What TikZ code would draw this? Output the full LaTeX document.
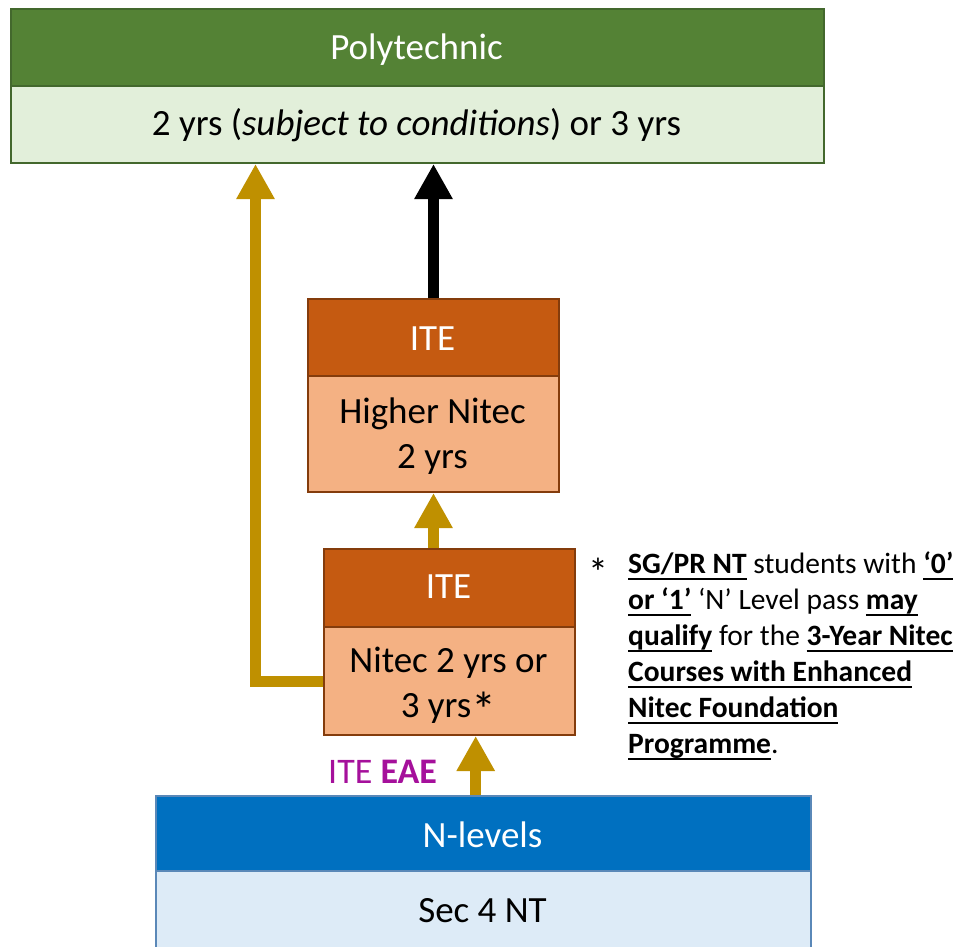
\documentclass[tikz,border=0pt]{standalone}
\usepackage{fontspec}
\setmainfont{Carlito}
\usetikzlibrary{arrows.meta}
\definecolor{polyHc}{HTML}{548235}
\definecolor{polyLc}{HTML}{E2EFDA}
\definecolor{polyBc}{HTML}{43682D}
\definecolor{iteHc}{HTML}{C55A11}
\definecolor{iteLc}{HTML}{F4B183}
\definecolor{iteBc}{HTML}{843C0C}
\definecolor{nlHc}{HTML}{0070C0}
\definecolor{nlLc}{HTML}{DDEBF7}
\definecolor{nlBc}{HTML}{5A88B8}
\definecolor{goldc}{HTML}{BF9000}
\definecolor{eaec}{HTML}{A5109B}
\newsavebox{\myulbox}
\newcommand{\myul}[1]{\sbox{\myulbox}{#1}\rlap{\rule[-7pt]{\wd\myulbox}{2pt}}\usebox{\myulbox}}
\begin{document}
\begin{tikzpicture}[x=1pt,y=-1pt,
  box/.style={draw=#1, line width=2pt, inner sep=0pt, anchor=north west},
  maintxt/.style={anchor=base, inner sep=0pt, font=\fontsize{37}{44}\selectfont},
  wtxt/.style={maintxt, text=white},
  btxt/.style={maintxt, text=black},
  foot/.style={anchor=base west, inner sep=0pt, font=\fontsize{29.5}{35}\selectfont},
  goldarrow/.style={draw=goldc, line width=11pt, line join=miter, -{Triangle[width=36pt,length=35pt]}},
  blkarrow/.style={draw=black, line width=11pt, -{Triangle[width=36pt,length=35pt]}}]
\useasboundingbox (0,0) rectangle (964,947);
\clip (0,0) rectangle (964,947);
% Polytechnic
\node[box=polyBc, fill=polyHc, minimum width=813pt, minimum height=77pt] (polyH) at (10,8) {};
\node[box=polyBc, fill=polyLc, minimum width=813pt, minimum height=77pt] (polyL) at (10,85) {};
\node[wtxt] (tPoly) at (416.5,60) {Polytechnic};
\node[btxt] (tPolyY) at (416.5,136) {2 yrs (\textit{subject to conditions}) or 3 yrs};
% Higher Nitec
\node[box=iteBc, fill=iteHc, minimum width=251pt, minimum height=77pt] (hnH) at (307,298) {};
\node[box=iteBc, fill=iteLc, minimum width=251pt, minimum height=116pt] (hnL) at (307,375) {};
\node[wtxt] (tHnH) at (432.5,350) {ITE};
\node[btxt] (tHn1) at (432.5,423) {Higher Nitec};
\node[btxt] (tHn2) at (432.5,468) {2 yrs};
% Nitec
\node[box=iteBc, fill=iteHc, minimum width=251pt, minimum height=78pt] (nH) at (323,548) {};
\node[box=iteBc, fill=iteLc, minimum width=251pt, minimum height=108pt] (nL) at (323,626) {};
\node[wtxt] (tNH) at (448.5,598) {ITE};
\node[btxt] (tN1) at (448.5,672) {Nitec 2 yrs or};
\node[btxt] (tN2) at (448.5,717) {3 yrs\raisebox{-10pt}{\fontsize{50}{50}\selectfont *}};
% N-levels
\node[box=nlBc, fill=nlHc, line width=1.5pt, minimum width=655pt, minimum height=75pt] (nlH) at (155,795) {};
\node[box=nlBc, fill=nlLc, line width=1.5pt, minimum width=655pt, minimum height=110pt] (nlL) at (155,870) {};
\node[wtxt] (tNlH) at (482.5,847) {N-levels};
\node[btxt] (tNl) at (482.5,922) {Sec 4 NT};
% arrows
\coordinate (elbow) at (255.5,680);
\coordinate (bx) at (475.7,0);
\draw[goldarrow] (nL.west) -- (nL.west -| elbow) -- (elbow |- polyL.south);
\draw[blkarrow] (hnH.north) -- (hnH.north |- polyL.south);
\draw[goldarrow] (nH.north -| hnL.south) -- (hnL.south);
\draw[goldarrow] (nlH.north -| bx) -- (nL.south -| bx);
% ITE EAE label
\node[anchor=base west, inner sep=0pt, text=eaec, font=\fontsize{36}{40}\selectfont] (eae) at (328,783) {ITE \textbf{EAE}};
% footnote
\node[anchor=base west, inner sep=0pt, font=\fontsize{40}{40}\selectfont] (star) at (588,586) {*};
\node[foot] (f1) at (628,573) {\myul{\textbf{SG/PR NT}} students with \myul{\textbf{‘0’}}};
\node[foot] (f2) at (628,609) {\myul{\textbf{or ‘1’}} ‘N’ Level pass \myul{\textbf{may}}};
\node[foot] (f3) at (628,645) {\myul{\textbf{qualify}} for the \myul{\textbf{3-Year Nitec}}};
\node[foot] (f4) at (628,681) {\myul{\textbf{Courses with Enhanced}}};
\node[foot] (f5) at (628,717) {\myul{\textbf{Nitec Foundation}}};
\node[foot] (f6) at (628,753) {\myul{\textbf{Programme}}.};
\end{tikzpicture}
\end{document}
